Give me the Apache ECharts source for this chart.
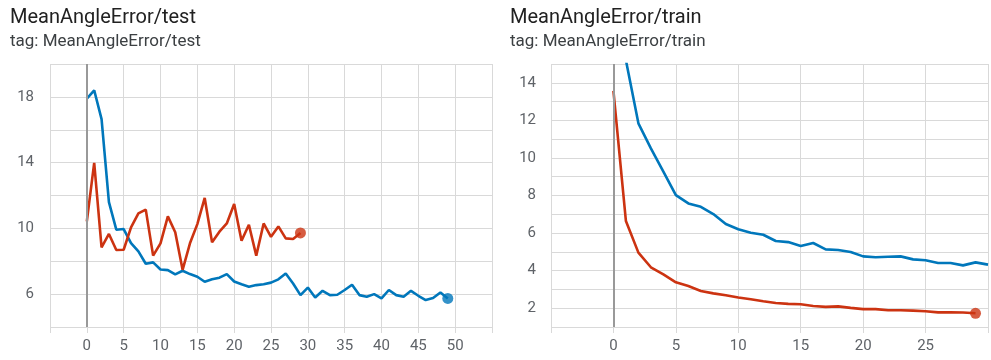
<!DOCTYPE html>
<html>
<head>
<meta charset="utf-8">
<script src="https://cdn.jsdelivr.net/npm/echarts@6/dist/echarts.min.js"></script>
<style>
html,body{margin:0;padding:0;background:#fff;}
#c{width:991px;height:360px;}
</style>
</head>
<body>
<div id="c"></div>
<script>
// ---- data ----
const testBlue = [17.9, 18.4, 16.65, 11.6, 9.92, 9.96, 9.1, 8.6, 7.85, 7.93,
  7.5, 7.46, 7.2, 7.42, 7.22, 7.06, 6.75, 6.9, 7.0, 7.22,
  6.77, 6.6, 6.45, 6.55, 6.6, 6.7, 6.9, 7.26, 6.65, 5.94,
  6.4, 5.8, 6.2, 5.94, 5.96, 6.25, 6.57, 5.94, 5.84, 6.0,
  5.74, 6.25, 5.94, 5.84, 6.2, 5.9, 5.64, 5.76, 6.1, 5.74];
const testRed = [10.43, 13.98, 8.84, 9.66, 8.68, 8.7, 10.06, 10.91, 11.14, 8.34,
  9.09, 10.73, 9.76, 7.48, 9.09, 10.26, 11.85, 9.15, 9.8, 10.3,
  11.48, 9.25, 10.22, 8.34, 10.3, 9.49, 10.12, 9.39, 9.35, 9.72];
const trainBlue = [24, 15.2, 11.84, 10.51, 9.27, 8.02, 7.58, 7.4, 7.01, 6.48,
  6.2, 6.02, 5.91, 5.58, 5.52, 5.31, 5.47, 5.13, 5.1, 4.99,
  4.76, 4.71, 4.74, 4.76, 4.6, 4.55, 4.41, 4.41, 4.28, 4.44, 4.32];
const trainRed = [13.57, 6.64, 4.96, 4.18, 3.8, 3.38, 3.18, 2.92, 2.79, 2.69,
  2.57, 2.48, 2.37, 2.28, 2.23, 2.21, 2.12, 2.07, 2.1, 2.02,
  1.95, 1.95, 1.89, 1.89, 1.87, 1.84, 1.78, 1.78, 1.77, 1.73];
const testTitle = 'MeanAngleError/test';
const trainTitle = 'MeanAngleError/train';
const testYLabels = [6, 10, 14, 18];
const trainYLabels = [2, 4, 6, 8, 10, 12, 14];
const testXLabels = [0, 5, 10, 15, 20, 25, 30, 35, 40, 45, 50];
const trainXLabels = [0, 5, 10, 15, 20, 25];

const BLUE = '#0077bb', RED = '#cc3311';
const GRIDC = '#d9d9d9', ZEROC = '#999999', LABC = '#5f6368';
const FONT = 'Roboto';

const pairs = arr => arr.map((v, i) => [i, v]);
const last = arr => [[arr.length - 1, arr[arr.length - 1]]];

function xAxis(gi, min, max, labels) {
  return {
    type: 'value', gridIndex: gi, min: min, max: max, interval: 5,
    axisLine: {show: false},
    axisTick: {show: true, length: 6, lineStyle: {color: GRIDC, width: 1}},
    splitLine: {show: true, lineStyle: {color: GRIDC, width: 1}},
    axisLabel: {
      margin: 12, color: LABC, fontSize: 15, fontFamily: FONT,
      showMinLabel: true, showMaxLabel: true,
      formatter: v => labels.indexOf(v) >= 0 ? String(v) : ''
    }
  };
}
function yAxis(gi, min, max, labels, margin) {
  return {
    type: 'value', gridIndex: gi, min: min, max: max, interval: gi === 0 ? 2 : 1,
    axisLine: {show: false},
    axisTick: {show: true, length: 8, lineStyle: {color: GRIDC, width: 1}},
    splitLine: {show: true, lineStyle: {color: GRIDC, width: 1}},
    axisLabel: {
      margin: margin, color: LABC, fontSize: 15, fontFamily: FONT,
      showMinLabel: true, showMaxLabel: true,
      formatter: v => labels.indexOf(v) >= 0 ? String(v) : ''
    }
  };
}
function zeroLine(gi) {
  return {
    type: 'line', xAxisIndex: gi, yAxisIndex: gi, data: [], z: 1,
    silent: true, animation: false,
    markLine: {
      silent: true, symbol: ['none', 'none'], animation: false,
      label: {show: false},
      lineStyle: {color: ZEROC, width: 2, type: 'solid'},
      data: [{xAxis: 0}]
    }
  };
}
function lineSeries(gi, data, color) {
  return {
    type: 'line', xAxisIndex: gi, yAxisIndex: gi, data: pairs(data),
    showSymbol: false, symbol: 'none', smooth: false, clip: true,
    lineStyle: {color: color, width: 2.6}, itemStyle: {color: color},
    silent: true, animation: false, z: 3
  };
}
function dot(gi, data, color) {
  return {
    type: 'scatter', xAxisIndex: gi, yAxisIndex: gi, data: last(data),
    symbol: 'circle', symbolSize: 11, itemStyle: {color: color},
    silent: true, animation: false, z: 4
  };
}

const chart = echarts.init(document.getElementById('c'), null, {renderer: 'canvas'});
chart.setOption({
  animation: false,
  backgroundColor: '#fff',
  title: [
    {text: testTitle, subtext: 'tag: ' + testTitle, left: 5, top: 3, itemGap: 5,
     textStyle: {fontSize: 20, fontWeight: 'normal', color: '#212121', fontFamily: FONT},
     subtextStyle: {fontSize: 17, color: '#3c4043', fontFamily: FONT}},
    {text: trainTitle, subtext: 'tag: ' + trainTitle, left: 505, top: 3, itemGap: 5,
     textStyle: {fontSize: 20, fontWeight: 'normal', color: '#212121', fontFamily: FONT},
     subtextStyle: {fontSize: 17, color: '#3c4043', fontFamily: FONT}}
  ],
  grid: [
    {left: 50, top: 64, width: 442, height: 263, containLabel: false},
    {left: 551, top: 64, width: 443, height: 263, containLabel: false}
  ],
  xAxis: [xAxis(0, -5, 55, testXLabels), xAxis(1, -5, 30, trainXLabels)],
  yAxis: [yAxis(0, 4, 20, testYLabels, 16), yAxis(1, 1, 15, trainYLabels, 15)],
  series: [
    zeroLine(0),
    lineSeries(0, testBlue, BLUE),
    lineSeries(0, testRed, RED),
    dot(0, testBlue, BLUE),
    dot(0, testRed, RED),
    zeroLine(1),
    lineSeries(1, trainBlue, BLUE),
    lineSeries(1, trainRed, RED),
    dot(1, trainRed, RED)
  ]
});
</script>
</body>
</html>
